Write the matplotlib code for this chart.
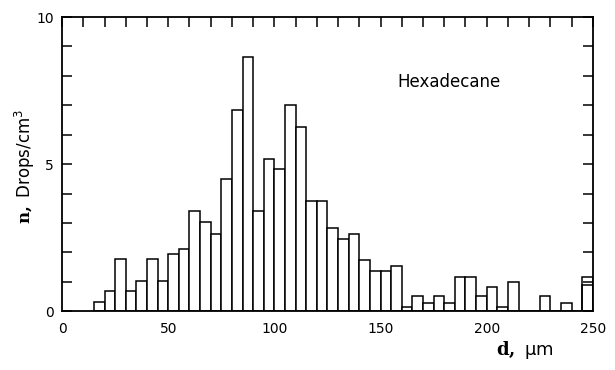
import numpy as np
import matplotlib.pyplot as plt

plt.rcParams['mathtext.fontset'] = 'custom'
plt.rcParams['mathtext.bf'] = 'DejaVu Serif:bold'
plt.rcParams['mathtext.rm'] = 'DejaVu Sans'

# bin left edges (um) and heights (drops/cm^3), bin width 5
edges = np.arange(15, 250, 5)
counts = [0.32, 0.69, 1.77, 0.69, 1.03, 1.77, 1.03, 1.93, 2.13, 3.40,
          3.02, 2.64, 4.49, 6.85, 8.65, 3.40, 5.18, 4.84, 7.01, 6.27,
          3.76, 3.76, 2.83, 2.46, 2.64, 1.75, 1.37, 1.37, 1.53, 0.14,
          0.51, 0.29, 0.51, 0.29, 1.17, 1.17, 0.51, 0.83, 0.14, 1.00,
          0.0, 0.0, 0.51, 0.0, 0.29, 0.0, 1.17]
# extra inner step in the last bin
last_edge = 245
last_inner = 0.90

fig = plt.figure(figsize=(6.15, 3.7), dpi=100)
ax = fig.add_axes([0.101, 0.159, 0.863, 0.795])

ax.bar(edges, counts, width=5, align='edge', facecolor='white',
       edgecolor='black', linewidth=1.1)
ax.bar([last_edge], [last_inner], width=5, align='edge', facecolor='none',
       edgecolor='black', linewidth=1.1)

ax.set_xlim(0, 250)
ax.set_ylim(0, 10)
ax.set_xticks([0, 50, 100, 150, 200, 250])
ax.set_xticks(np.arange(0, 251, 10), minor=True)
ax.set_yticks([0, 5, 10])
ax.set_yticks(np.arange(0, 11, 1), minor=True)
ax.tick_params(which='both', direction='in', top=True, right=True,
               bottom=False, width=1.1, labelsize=10)
ax.tick_params(which='major', length=7, pad=6)
ax.tick_params(which='minor', length=7)
ax.tick_params(axis='x', which='major', pad=8)
for s in ax.spines.values():
    s.set_linewidth(1.3)

ax.text(158, 7.8, "Hexadecane", fontsize=12, va='center', ha='left')

fig.text(0.90, 0.04, r"$\mathbf{d,}$ μm", fontsize=13, ha='right')
fig.text(0.04, 0.55, r"$\mathbf{n,}$ Drops/cm$^3$", fontsize=12,
         rotation=90, ha='center', va='center')

plt.savefig("out.png", dpi=100)
